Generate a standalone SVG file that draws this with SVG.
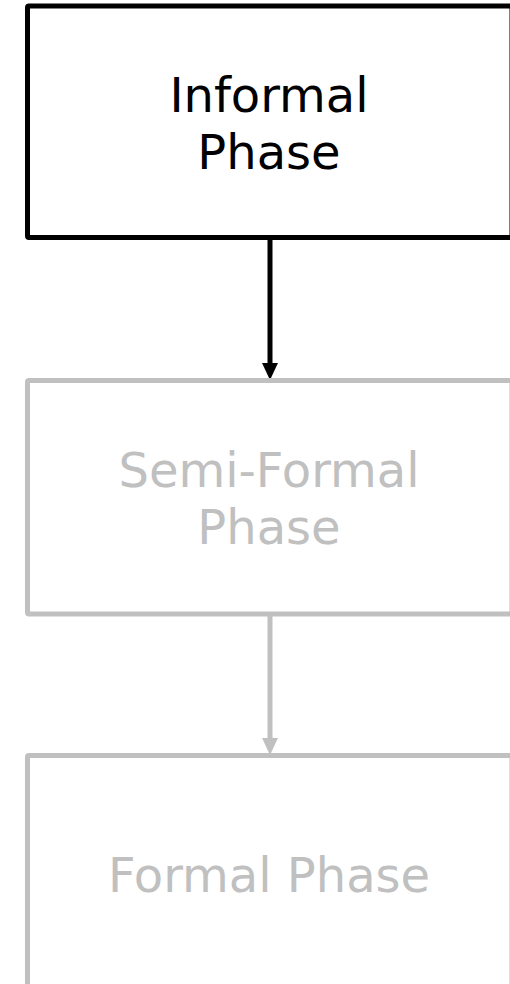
<svg xmlns="http://www.w3.org/2000/svg" width="510" height="984" viewBox="0 0 510 984">
  <style>
    .box { fill: #ffffff; stroke-width: 5; stroke-linejoin: round; }
    .active { stroke: #000000; }
    .muted { stroke: #c0c0c0; }
    .label { font-family: "DejaVu Sans", Verdana, sans-serif; font-size: 48px; text-anchor: middle; }
    .label-active { fill: #000000; }
    .label-muted { fill: #c0c0c0; }
    .wire { stroke-width: 5; fill: none; }
  </style>
  <rect width="510" height="984" fill="#ffffff"/>

  <g id="connectors">
    <line class="wire" stroke="#000000" x1="270" y1="239" x2="270" y2="365"/>
    <polygon points="262,363 278,363 270,380" fill="#000000"/>
    <line class="wire" stroke="#c0c0c0" x1="270" y1="615" x2="270" y2="740"/>
    <polygon points="262,738 278,738 270,755" fill="#c0c0c0"/>
  </g>

  <g id="informal-phase">
    <rect class="box active" x="27.5" y="6" width="484.5" height="231.5" rx="1.5"/>
    <text class="label label-active" x="269" y="112">Informal</text>
    <text class="label label-active" x="269" y="168.5">Phase</text>
  </g>

  <g id="semi-formal-phase">
    <rect class="box muted" x="27.5" y="380.5" width="484.5" height="233.5" rx="1.5"/>
    <text class="label label-muted" x="269" y="487">Semi-Formal</text>
    <text class="label label-muted" x="269" y="544">Phase</text>
  </g>

  <g id="formal-phase">
    <rect class="box muted" x="27.5" y="755.5" width="484.5" height="233.5" rx="1.5"/>
    <text class="label label-muted" x="269" y="891.5">Formal Phase</text>
  </g>
</svg>
